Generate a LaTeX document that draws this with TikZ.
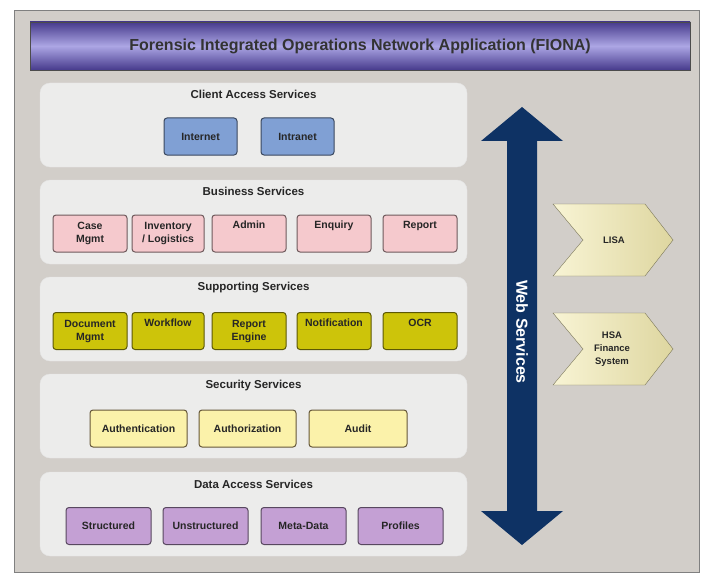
\documentclass[tikz,border=0pt]{standalone}
\usepackage{fontspec}
\setmainfont{Liberation Sans}
\definecolor{panelgray}{RGB}{210,206,201}
\definecolor{titledark}{RGB}{70,58,140}
\definecolor{titlelight}{RGB}{172,166,228}
\definecolor{layerfill}{RGB}{236,236,235}
\definecolor{clientblue}{RGB}{128,160,212}
\definecolor{bizpink}{RGB}{245,201,205}
\definecolor{supolive}{RGB}{205,196,10}
\definecolor{secyellow}{RGB}{251,242,170}
\definecolor{datalilac}{RGB}{196,160,212}
\definecolor{webnavy}{RGB}{14,50,100}
\definecolor{chevlight}{RGB}{248,244,212}
\definecolor{chevdark}{RGB}{222,214,160}
\begin{document}
\begin{tikzpicture} [x=1pt,y=-1pt,
    layer/.style={draw=white!80!gray,fill=layerfill,rounded corners=10pt,
                  minimum width=427pt,minimum height=84pt},
    layertitle/.style={font=\fontsize{11.5}{13}\selectfont\bfseries,text=black!85},
    svc/.style={draw=#1!45!black,line width=1pt,rounded corners=3pt,
                minimum height=37pt,align=center,inner sep=1pt,
                font=\fontsize{10.5}{13}\selectfont\bfseries,text=black!85},
    chev/.style={draw=chevdark!55!black,left color=chevlight,right color=chevdark}]
    \useasboundingbox (0,0) rectangle (708,580);
    \fill [white] (0,0) rectangle (708,580);
    \draw [gray,fill=panelgray] (14,10) rectangle (699,572);
    \path node (fiona) at (360,46) [draw=black!70,top color=titledark,bottom color=titledark,
                middle color=titlelight,minimum width=660pt,minimum height=48pt,
                font=\fontsize{16}{18}\selectfont\bfseries,text=black!80]
                {Forensic Integrated Operations Network Application (FIONA)};
    \path node (client) at (253.5,125) [layer] {}
          node (business) at (253.5,222) [layer] {}
          node (supporting) at (253.5,319) [layer] {}
          node (security) at (253.5,416) [layer] {}
          node (data) at (253.5,514) [layer] {};
    \path node (clienttitle) at (253.5,94) [layertitle] {Client Access Services}
          node (businesstitle) at (253.5,191) [layertitle] {Business Services}
          node (supportingtitle) at (253.5,288) [layertitle] {Supporting Services}
          node (securitytitle) at (253.5,386) [layertitle] {Security Services}
          node (datatitle) at (253.5,484) [layertitle] {Data Access Services};
    \path node (internet) at (200.5,136.5) [svc=clientblue,fill=clientblue,minimum width=73pt] {Internet}
          node (intranet) at (297.5,136.5) [svc=clientblue,fill=clientblue,minimum width=73pt] {Intranet};
    \path node (casemgmt) at (90,233.5) [svc=bizpink,fill=bizpink,minimum width=74pt] {Case\\Mgmt}
          node (inventory) at (168,233.5) [svc=bizpink,fill=bizpink,minimum width=72pt] {Inventory\\/ Logistics}
          node (admin) at (249,233.5) [svc=bizpink,fill=bizpink,minimum width=74pt] {Admin\\\strut}
          node (enquiry) at (334,233.5) [svc=bizpink,fill=bizpink,minimum width=74pt] {Enquiry\\\strut}
          node (report) at (420,233.5) [svc=bizpink,fill=bizpink,minimum width=74pt] {Report\\\strut};
    \path node (docmgmt) at (90,331) [svc=supolive,fill=supolive,minimum width=74pt] {Document\\Mgmt}
          node (workflow) at (168,331) [svc=supolive,fill=supolive,minimum width=72pt] {Workflow\\\strut}
          node (reportengine) at (249,331) [svc=supolive,fill=supolive,minimum width=74pt] {Report\\Engine}
          node (notification) at (334,331) [svc=supolive,fill=supolive,minimum width=74pt] {Notification\\\strut}
          node (ocr) at (420,331) [svc=supolive,fill=supolive,minimum width=74pt] {OCR\\\strut};
    \path node (authentication) at (138.5,428.5) [svc=secyellow!60!brown,fill=secyellow,minimum width=97pt] {Authentication}
          node (authorization) at (247.5,428.5) [svc=secyellow!60!brown,fill=secyellow,minimum width=97pt] {Authorization}
          node (audit) at (358,428.5) [svc=secyellow!60!brown,fill=secyellow,minimum width=98pt] {Audit};
    \path node (structured) at (108.5,526) [svc=datalilac,fill=datalilac,minimum width=85pt] {Structured}
          node (unstructured) at (205.5,526) [svc=datalilac,fill=datalilac,minimum width=85pt] {Unstructured}
          node (metadata) at (303.5,526) [svc=datalilac,fill=datalilac,minimum width=85pt] {Meta-Data}
          node (profiles) at (400.5,526) [svc=datalilac,fill=datalilac,minimum width=85pt] {Profiles};
    \fill [webnavy] (522,107) -- (563,141) -- (537,141) -- (537,511) -- (563,511) -- (522,545)
                    -- (481,511) -- (507,511) -- (507,141) -- (481,141) -- cycle;
    \path node (webservices) at (522,332) [rotate=-90,text=white,
                font=\fontsize{16}{18}\selectfont\bfseries] {Web Services};
    \draw [chev] (553,204) -- (645,204) -- (673,240) -- (645,276) -- (553,276) -- (583,240) -- cycle;
    \draw [chev] (553,313) -- (645,313) -- (673,349) -- (645,385) -- (553,385) -- (583,349) -- cycle;
    \path node (lisa) at (614,240) [font=\fontsize{9.5}{11}\selectfont\bfseries,text=black!85] {LISA}
          node (hsa) at (612,349) [align=center,font=\fontsize{9.5}{13}\selectfont\bfseries,text=black!85]
               {HSA\\Finance\\System};
\end{tikzpicture}
\end{document}
